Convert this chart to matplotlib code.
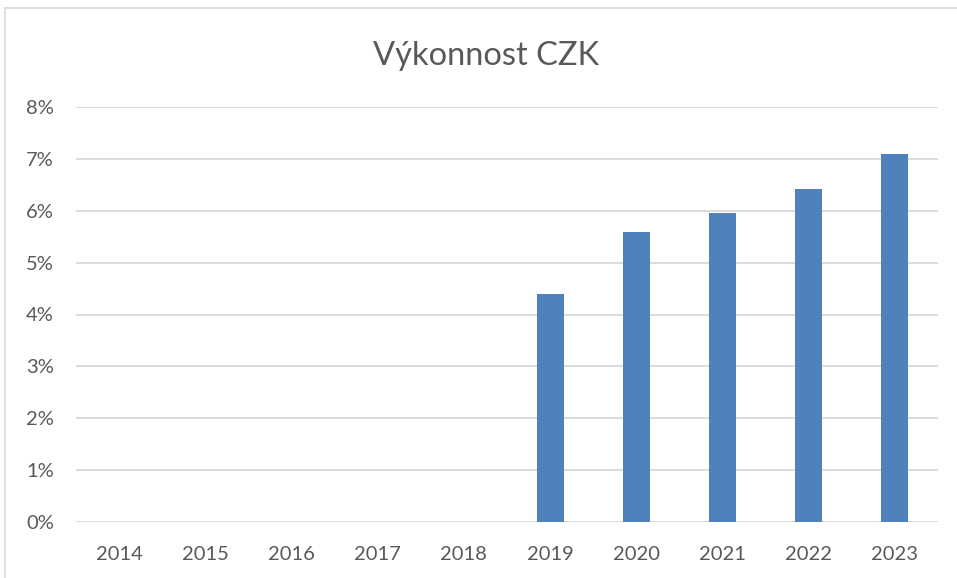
import matplotlib
matplotlib.use('Agg')
from matplotlib import pyplot as plt
from matplotlib.ticker import PercentFormatter, MultipleLocator
from matplotlib.lines import Line2D
import numpy as np

# Data
years = ['2014', '2015', '2016', '2017', '2018',
         '2019', '2020', '2021', '2022', '2023']
performance = [0, 0, 0, 0, 0, 0.0439, 0.0559, 0.0596, 0.0641, 0.0710]

text_grey = '#595959'
grid_grey = '#D9D9D9'
bar_blue = '#4F81BD'

plt.rcParams['font.family'] = ['Lato', 'DejaVu Sans']

fig = plt.figure(figsize=(9.57, 5.78), dpi=100)
ax = fig.add_axes([76 / 957, 1 - 522 / 578, (938 - 76) / 957, (522 - 107) / 578])

x = np.arange(len(years))
ax.bar(x, performance, width=0.315, color=bar_blue, zorder=3)

ax.set_xlim(-0.5, len(years) - 0.5)
ax.set_ylim(0, 0.08)
ax.yaxis.set_major_locator(MultipleLocator(0.01))
ax.yaxis.set_major_formatter(PercentFormatter(xmax=1, decimals=0))
ax.set_xticks(x)
ax.set_xticklabels(years)

ax.grid(axis='y', color=grid_grey, linewidth=1.3, zorder=0)
for s in ax.spines.values():
    s.set_visible(False)
ax.tick_params(axis='both', length=0, labelsize=14.5, colors=text_grey)
ax.tick_params(axis='y', pad=16)
ax.tick_params(axis='x', pad=17)

fig.text(486 / 957, 1 - 56 / 578, 'Výkonnost CZK', ha='center', va='center',
         fontsize=23.5, color=text_grey)

# chart area border (top and left visible)
fig.add_artist(Line2D([5 / 957, 5 / 957], [0, 1 - 8 / 578],
                      transform=fig.transFigure, color=grid_grey, linewidth=1.2))
fig.add_artist(Line2D([5 / 957, 1], [1 - 8 / 578, 1 - 8 / 578],
                      transform=fig.transFigure, color=grid_grey, linewidth=1.2))

fig.savefig('out.png', dpi=100)
